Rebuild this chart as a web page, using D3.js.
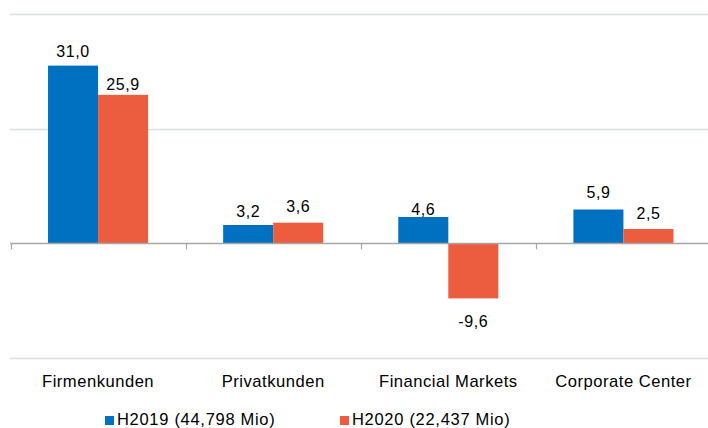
<!DOCTYPE html>
<html><head><meta charset="utf-8">
<script src="https://cdn.jsdelivr.net/npm/d3@7"></script>
<style>
html,body{margin:0;padding:0;background:#fff;}
svg{display:block;font-family:"Liberation Sans",Arial,sans-serif;}
</style></head>
<body><svg id="c" width="708" height="428"></svg>
<script>
const categories = ["Firmenkunden","Privatkunden","Financial Markets","Corporate Center"];
const seriesNames = ["H2019 (44,798 Mio)","H2020 (22,437 Mio)"];
const h2019 = [31.0, 3.2, 4.6, 5.9];
const h2020 = [25.9, 3.6, -9.6, 2.5];
const yTicks = [-20, 0, 20, 40];
const colors = ["#0071C0", "#EC5C3F"];
// small label nudges (layout only)
const labelNudge = [[9, 5], [8, 11], [2, 0], [12, 10]];

const seriesValues = [h2019, h2020];
const svg = d3.select("#c");
const fmt = v => d3.format(".1f")(v).replace(".", ",").replace("\u2212", "-");

const y = d3.scaleLinear().domain([-20, 40]).range([358, 14]);
const x0 = d3.scaleBand().domain(categories).range([10.5, 711]).paddingInner(3/7).paddingOuter(1.5/7);
const x1 = d3.scaleBand().domain(seriesNames).range([0, x0.bandwidth()]);
const step = x0.step();

// gridlines
svg.append("g").selectAll("line").data(yTicks.filter(t => t !== 0)).join("line")
  .attr("x1", 10).attr("x2", 708)
  .attr("y1", d => Math.round(y(d)) + 0.5).attr("y2", d => Math.round(y(d)) + 0.5)
  .attr("stroke", "#d9dee4").attr("stroke-width", 1.5);

// bars
const rows = categories.map((c, i) => seriesNames.map((s, j) => ({c, s, j, i, v: seriesValues[j][i]})));
const g = svg.append("g");
g.selectAll("g").data(rows).join("g")
  .attr("transform", d => `translate(${x0(d[0].c)},0)`)
  .selectAll("rect").data(d => d).join("rect")
  .attr("x", d => x1(d.s)).attr("width", x1.bandwidth())
  .attr("y", d => y(Math.max(0, d.v)))
  .attr("height", d => Math.abs(y(d.v) - y(0)))
  .attr("fill", d => colors[d.j]);

// zero axis
svg.append("line").attr("x1", 10).attr("x2", 708)
  .attr("y1", Math.round(y(0)) + 0.5).attr("y2", Math.round(y(0)) + 0.5)
  .attr("stroke", "#a6a6a6").attr("stroke-width", 1.5);
svg.append("g").selectAll("line").data(categories).join("line")
  .attr("x1", d => Math.round(x0(d) - step * x0.paddingInner() / 2) + 0.5)
  .attr("x2", d => Math.round(x0(d) - step * x0.paddingInner() / 2) + 0.5)
  .attr("y1", y(0)).attr("y2", y(0) + 6)
  .attr("stroke", "#a6a6a6").attr("stroke-width", 1.2);

// value labels
svg.append("g").selectAll("text").data(rows.flat()).join("text")
  .attr("x", d => x0(d.c) + x1(d.s) + x1.bandwidth() / 2)
  .attr("y", d => d.v >= 0 ? y(d.v) - labelNudge[d.i][d.j] : y(d.v) + 29)
  .attr("text-anchor", "middle")
  .attr("font-size", 16).attr("letter-spacing", 0.6)
  .attr("fill", "#000")
  .text(d => fmt(d.v));

// category labels
svg.append("g").selectAll("text").data(categories).join("text")
  .attr("x", d => x0(d) + x0.bandwidth() / 2)
  .attr("y", 387)
  .attr("text-anchor", "middle")
  .attr("font-size", 16.6).attr("letter-spacing", 0.5)
  .attr("fill", "#000")
  .text(d => d);

// legend
const legendX = [105, 340];
const lg = svg.append("g").selectAll("g").data(seriesNames).join("g")
  .attr("transform", (d, i) => `translate(${legendX[i]},416)`);
lg.append("rect").attr("width", 9).attr("height", 9).attr("fill", (d, i) => colors[i]);
lg.append("text").attr("x", 12).attr("y", 9)
  .attr("font-size", 16.5).attr("letter-spacing", 0.7)
  .attr("fill", "#000").text(d => d);
</script>
</body></html>
